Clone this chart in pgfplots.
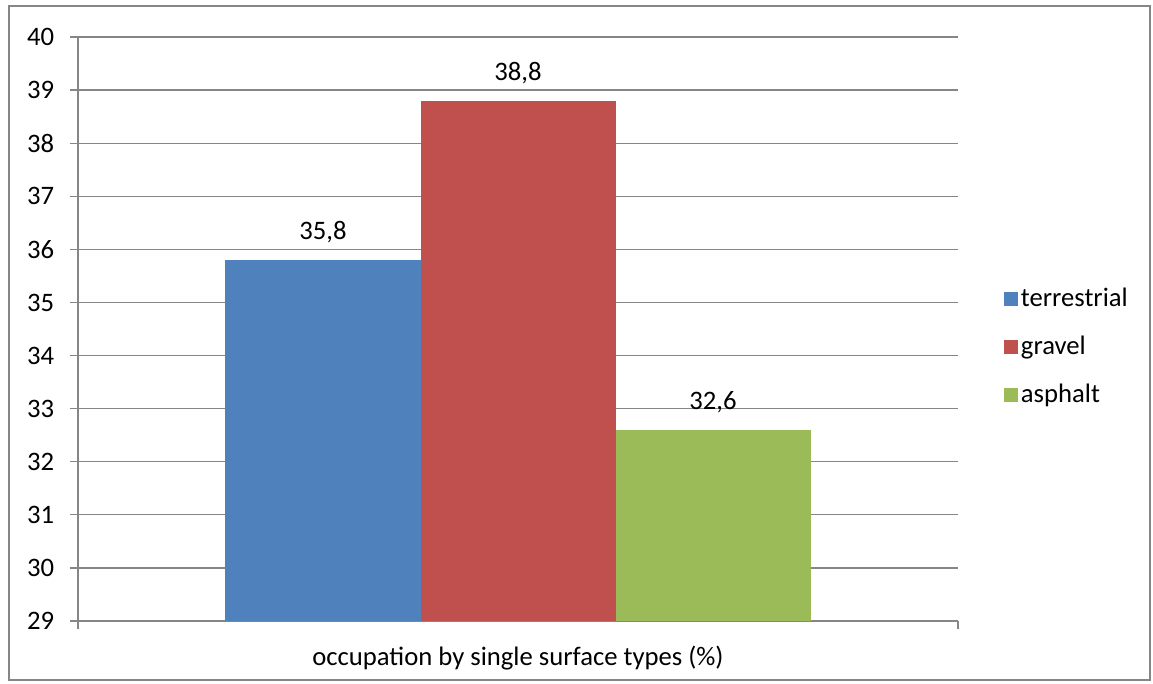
\documentclass[border=0pt]{standalone}
\usepackage{pgfplots}
\pgfplotsset{compat=1.18}
\usepackage{fontspec}
\setmainfont{Carlito}
\definecolor{cblue}{HTML}{4F81BD}
\definecolor{cred}{HTML}{C0504D}
\definecolor{cgreen}{HTML}{9BBB59}
\definecolor{cgrid}{HTML}{868686}
\begin{document}
\fontsize{20}{24}\selectfont
\begin{tikzpicture}
\useasboundingbox (-58.5pt,-46.5pt) rectangle (806.25pt,465.75pt);
\draw[cgrid, line width=1.3pt] (-51.75pt,-44.25pt) rectangle (804pt,461.25pt);
\begin{axis}[
  at={(0pt,0pt)}, anchor=south west,
  scale only axis,
  width=660pt, height=438pt,
  ybar=0pt, bar width=146.25pt,
  xmin=-1, xmax=1, ymin=29, ymax=40,
  ytick={29,30,...,40},
  xtick={-1,1}, xticklabels={},
  tick align=outside,
  major tick length=6pt,
  axis x line*=bottom, axis y line*=left,
  axis line style={cgrid, line width=1pt, -},
  tick style={cgrid, line width=1pt},
  ymajorgrids,
  grid style={cgrid, line width=1pt},
  /pgf/number format/assume math mode=true,
  ticklabel style={font=\fontsize{20}{24}\selectfont},
  yticklabel style={xshift=-5pt},
  xlabel={occupation by single surface types (\%)},
  xlabel style={font=\fontsize{20}{24}\selectfont, at={(0.5,0)}, anchor=north, yshift=-12pt},
  nodes near coords={\pgfmathprintnumber[use comma,fixed,precision=1,fixed zerofill]{\pgfplotspointmeta}},
  nodes near coords style={font=\fontsize{20}{24}\selectfont, anchor=south, yshift=6pt, /pgf/number format/assume math mode=true},
  legend style={draw=none, at={(1,0.5)}, anchor=west, xshift=31pt, yshift=-13.5pt,
    font=\fontsize{20}{24}\selectfont, row sep=15pt, fill=none},
  legend cell align=left,
  legend image code/.code={\fill[#1] (-3.5pt,-5.5pt) rectangle (7.5pt,5.5pt);},
]
\addplot[fill=cblue, draw=none] coordinates {(0,35.8)};
\addplot[fill=cred, draw=none] coordinates {(0,38.8)};
\addplot[fill=cgreen, draw=none] coordinates {(0,32.6)};
\legend{terrestrial, gravel, asphalt}
\end{axis}
\end{tikzpicture}
\end{document}
